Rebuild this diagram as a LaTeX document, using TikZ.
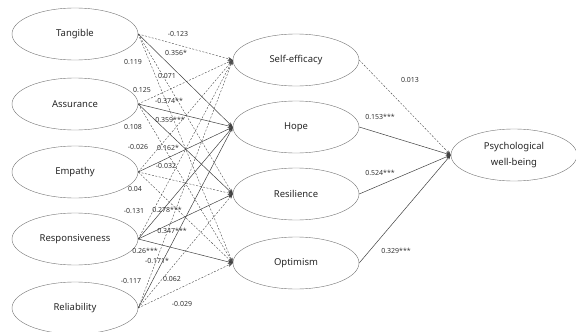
\documentclass[tikz,border=0pt]{standalone}
\usepackage{fontspec}
\setmainfont{Noto Sans}
\usetikzlibrary{shapes.geometric,arrows.meta}
\begin{document}
\begin{tikzpicture}[x=1pt,y=-1pt,>={Stealth[length=5pt,width=3.5pt]},line join=round,
	latent/.style={ellipse,draw=black!55,minimum width=126pt,minimum height=52pt,inner sep=0pt,align=center,font=\fontsize{9.5}{16}\selectfont,text=black!85},
	coef/.style={font=\fontsize{7}{8}\selectfont,text=black!80,inner sep=0.5pt},
	sig/.style={->,draw=black!75,line width=0.5pt},
	ns/.style={->,draw=black!70,dashed,dash pattern=on 2pt off 1.5pt,line width=0.4pt}]
	\useasboundingbox (0,0) rectangle (576,332);
	% exogenous
	\node[latent] (tan) at (75,34) {Tangible};
	\node[latent] (ass) at (75,104) {Assurance};
	\node[latent] (emp) at (75,172) {Empathy};
	\node[latent] (res) at (75,239) {Responsiveness};
	\node[latent] (rel) at (75,308) {Reliability};
	% mediators
	\node[latent] (se) at (296,60) {Self-efficacy};
	\node[latent] (hope) at (296,127) {Hope};
	\node[latent] (resil) at (296,194) {Resilience};
	\node[latent] (opt) at (296,263) {Optimism};
	% outcome
	\node[latent] (pwb) at (514,155) {Psychological\\well-being};
	% paths
	\foreach \a/\b in {tan/se,tan/resil,tan/opt,ass/se,ass/opt,emp/se,emp/resil,emp/opt,
		res/se,rel/se,rel/resil,rel/opt}
	{\draw[ns] (\a.east)--(\b.west);}
	\foreach \a/\b in {tan/hope,ass/hope,ass/resil,emp/hope,res/hope,res/resil,res/opt,rel/hope}
	{\draw[sig] (\a.east)--(\b.west);}
	\draw[ns] (se.east)--(pwb.west);
	\foreach \a in {hope,resil,opt}
	{\draw[sig] (\a.east)--(pwb.west);}
	% coefficients
	\node[coef] (c1) at (178,34) {-0.123};
	\node[coef] (c2) at (176,53) {0.356*};
	\node[coef] (c3) at (133,62) {0.119};
	\node[coef] (c4) at (167,76) {0.071};
	\node[coef] (c5) at (142,90) {0.125};
	\node[coef] (c6) at (169,101) {-0.374**};
	\node[coef] (c7) at (170,120) {0.359***};
	\node[coef] (c8) at (133,127) {0.108};
	\node[coef] (c9) at (138,147) {-0.026};
	\node[coef] (c10) at (168,148) {0.162*};
	\node[coef] (c11) at (166,166) {-0.032};
	\node[coef] (c12) at (135,189) {0.04};
	\node[coef] (c13) at (134,211) {-0.131};
	\node[coef] (c14) at (167,210) {0.278***};
	\node[coef] (c15) at (172,231) {0.347***};
	\node[coef] (c16) at (145,251) {0.26***};
	\node[coef] (c17) at (157,261) {-0.171*};
	\node[coef] (c18) at (131,281) {-0.117};
	\node[coef] (c19) at (172,279) {0.062};
	\node[coef] (c20) at (182,304) {-0.029};
	\node[coef] (c21) at (410,80) {0.013};
	\node[coef] (c22) at (380,117) {0.153***};
	\node[coef] (c23) at (380,173) {0.524***};
	\node[coef] (c24) at (396,251) {0.329***};
\end{tikzpicture}
\end{document}
